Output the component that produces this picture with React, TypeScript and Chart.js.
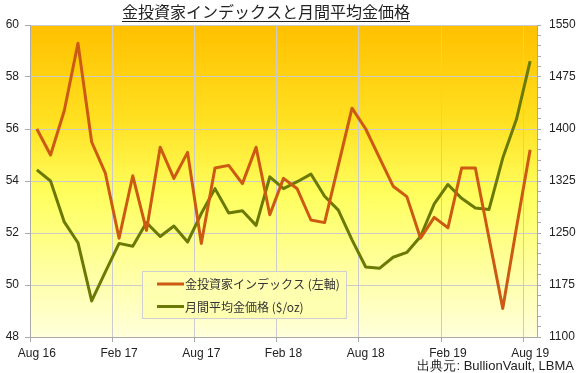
import React, { useEffect, useRef } from "react";
import { Chart, registerables } from "chart.js";

Chart.register(...registerables);

const months: string[] = [
  "Aug 16", "Sep 16", "Oct 16", "Nov 16", "Dec 16", "Jan 17", "Feb 17", "Mar 17", "Apr 17", "May 17", "Jun 17", "Jul 17",
  "Aug 17", "Sep 17", "Oct 17", "Nov 17", "Dec 17", "Jan 18", "Feb 18", "Mar 18", "Apr 18", "May 18", "Jun 18", "Jul 18",
  "Aug 18", "Sep 18", "Oct 18", "Nov 18", "Dec 18", "Jan 19", "Feb 19", "Mar 19", "Apr 19", "May 19", "Jun 19", "Jul 19",
  "Aug 19",
];

const investorIndex: number[] = [
  56.0, 55.0, 56.7, 59.3, 55.5, 54.3, 51.8, 54.2, 52.1, 55.3, 54.1, 55.1,
  51.6, 54.5, 54.6, 53.9, 55.3, 52.7, 54.1, 53.7, 52.5, 52.4, 54.6, 56.8,
  56.0, 54.9, 53.8, 53.4, 51.8, 52.6, 52.2, 54.5, 54.5, 51.8, 49.1, 52.2,
  55.2,
];

const goldPrice: number[] = [
  1341, 1325, 1266, 1236, 1152, 1194, 1235, 1231, 1265, 1245, 1260, 1237,
  1278, 1314, 1279, 1282, 1261, 1331, 1314, 1324, 1335, 1303, 1283, 1240,
  1201, 1199, 1215, 1222, 1245, 1292, 1320, 1300, 1286, 1284, 1358, 1414,
  1498,
];

const titleText = "金投資家インデックスと月間平均金価格";
const sourceText = "出典元: BullionVault, LBMA";
const seriesNames: string[] = ["金投資家インデックス (左軸)", "月間平均金価格 ($/oz)"];
const seriesColors: string[] = ["#CC5A12", "#6B7A05"];

const LABEL_FONT = "'Liberation Sans', Arial, sans-serif";
const CJK_FONT = "'Noto Sans CJK JP', 'Liberation Sans', sans-serif";

const bgPlugin = {
  id: "bgGradient",
  beforeDraw(chart: any) {
    const { ctx, chartArea } = chart;
    if (!chartArea) return;
    ctx.save();
    ctx.fillStyle = "#ffffff";
    ctx.fillRect(0, 0, chart.width, chart.height);
    const g = ctx.createLinearGradient(0, chartArea.top, 0, chartArea.bottom);
    g.addColorStop(0, "#FFC000");
    g.addColorStop(0.3, "#FFE020");
    g.addColorStop(0.55, "#FFFF60");
    g.addColorStop(1, "#FFFFDC");
    ctx.fillStyle = g;
    ctx.fillRect(chartArea.left, chartArea.top, chartArea.right - chartArea.left, chartArea.bottom - chartArea.top);
    ctx.restore();
  },
};

const decoPlugin = {
  id: "deco",
  afterDraw(chart: any) {
    const { ctx } = chart;
    ctx.save();
    // title
    ctx.font = `16px ${CJK_FONT}`;
    ctx.fillStyle = "#222222";
    ctx.textAlign = "center";
    ctx.textBaseline = "alphabetic";
    const tx = 266;
    const ty = 18;
    ctx.fillText(titleText, tx, ty);
    const w = ctx.measureText(titleText).width;
    ctx.strokeStyle = "#222222";
    ctx.lineWidth = 1;
    ctx.beginPath();
    ctx.moveTo(tx - w / 2, ty + 3.5);
    ctx.lineTo(tx + w / 2, ty + 3.5);
    ctx.stroke();

    // source
    ctx.font = `13px ${LABEL_FONT}`;
    ctx.textAlign = "right";
    ctx.fillStyle = "#222222";
    ctx.fillText(sourceText, 574, 370);

    // legend
    const bx = 142.5, by = 271.5, bw = 204, bh = 47;
    ctx.fillStyle = "rgba(255,255,175,0.9)";
    ctx.fillRect(bx, by, bw, bh);
    ctx.strokeStyle = "#CFCFCF";
    ctx.lineWidth = 1;
    ctx.strokeRect(bx, by, bw, bh);
    const rows = [284, 306.5];
    ctx.font = `12px ${CJK_FONT}`;
    ctx.textAlign = "left";
    ctx.textBaseline = "middle";
    rows.forEach((ry, i) => {
      ctx.strokeStyle = seriesColors[i];
      ctx.lineWidth = 3;
      ctx.beginPath();
      ctx.moveTo(157, ry);
      ctx.lineTo(184, ry);
      ctx.stroke();
      ctx.fillStyle = "#333333";
      ctx.fillText(seriesNames[i], 185, ry + 0.5);
    });
    ctx.restore();
  },
};

export default function App() {
  const ref = useRef<HTMLCanvasElement | null>(null);

  useEffect(() => {
    document.body.style.margin = "0";
    const canvas = ref.current;
    if (!canvas) return;
    const gridColor = "#CBCBCB";
    const chart = new Chart(canvas, {
      type: "line",
      data: {
        labels: months,
        datasets: [
          {
            label: seriesNames[0],
            data: investorIndex,
            yAxisID: "y",
            borderColor: seriesColors[0],
            backgroundColor: seriesColors[0],
            borderWidth: 3,
            pointRadius: 0,
            tension: 0,
            borderJoinStyle: "round",
          },
          {
            label: seriesNames[1],
            data: goldPrice,
            yAxisID: "y1",
            borderColor: seriesColors[1],
            backgroundColor: seriesColors[1],
            borderWidth: 3,
            pointRadius: 0,
            tension: 0,
            borderJoinStyle: "round",
          },
        ],
      },
      options: {
        animation: false,
        responsive: false,
        maintainAspectRatio: false,
        layout: { padding: { top: 25, left: 0, right: 0, bottom: 0 } },
        plugins: {
          legend: { display: false },
          title: { display: false },
          tooltip: { enabled: false },
        },
        scales: {
          x: {
            type: "category",
            offset: true,
            grid: {
              offset: true,
              color: (c: any) => (c.index % 6 === 0 ? gridColor : "rgba(0,0,0,0)"),
              tickColor: (c: any) => (c.index % 6 === 0 ? "#AAAAAA" : "rgba(0,0,0,0)"),
              tickLength: 5,
            },
            border: { color: "#AAAAAA" },
            ticks: {
              autoSkip: false,
              maxRotation: 0,
              minRotation: 0,
              padding: 4,
              color: "#222222",
              font: { family: LABEL_FONT, size: 12 },
              callback: (_v: any, i: number) => (i % 6 === 0 ? months[i] : ""),
            },
            afterFit: (s: any) => {
              s.height = 36;
            },
          },
          y: {
            position: "left",
            min: 48,
            max: 60,
            grid: { color: gridColor, tickColor: "#AAAAAA", tickLength: 5 },
            border: { color: "#AAAAAA" },
            ticks: {
              stepSize: 2,
              padding: 6,
              color: "#222222",
              font: { family: LABEL_FONT, size: 12 },
            },
            afterFit: (s: any) => {
              s.width = 30;
            },
          },
          y1: {
            position: "right",
            min: 1100,
            max: 1550,
            grid: { drawOnChartArea: false, tickColor: "#AAAAAA", tickLength: 4 },
            border: { color: "#AAAAAA" },
            ticks: {
              stepSize: 15,
              autoSkip: false,
              padding: 8,
              color: "#222222",
              font: { family: LABEL_FONT, size: 12 },
              callback: (v: any) => (Math.round(Number(v) - 1100) % 75 === 0 ? String(v) : ""),
            },
            afterFit: (s: any) => {
              s.width = 41;
            },
          },
        },
      },
      plugins: [bgPlugin, decoPlugin],
    });
    return () => chart.destroy();
  }, []);

  return (
    <div style={{ width: 578, height: 373, position: "relative" }}>
      <canvas ref={ref} width={578} height={373} style={{ display: "block", width: 578, height: 373 }} />
    </div>
  );
}
